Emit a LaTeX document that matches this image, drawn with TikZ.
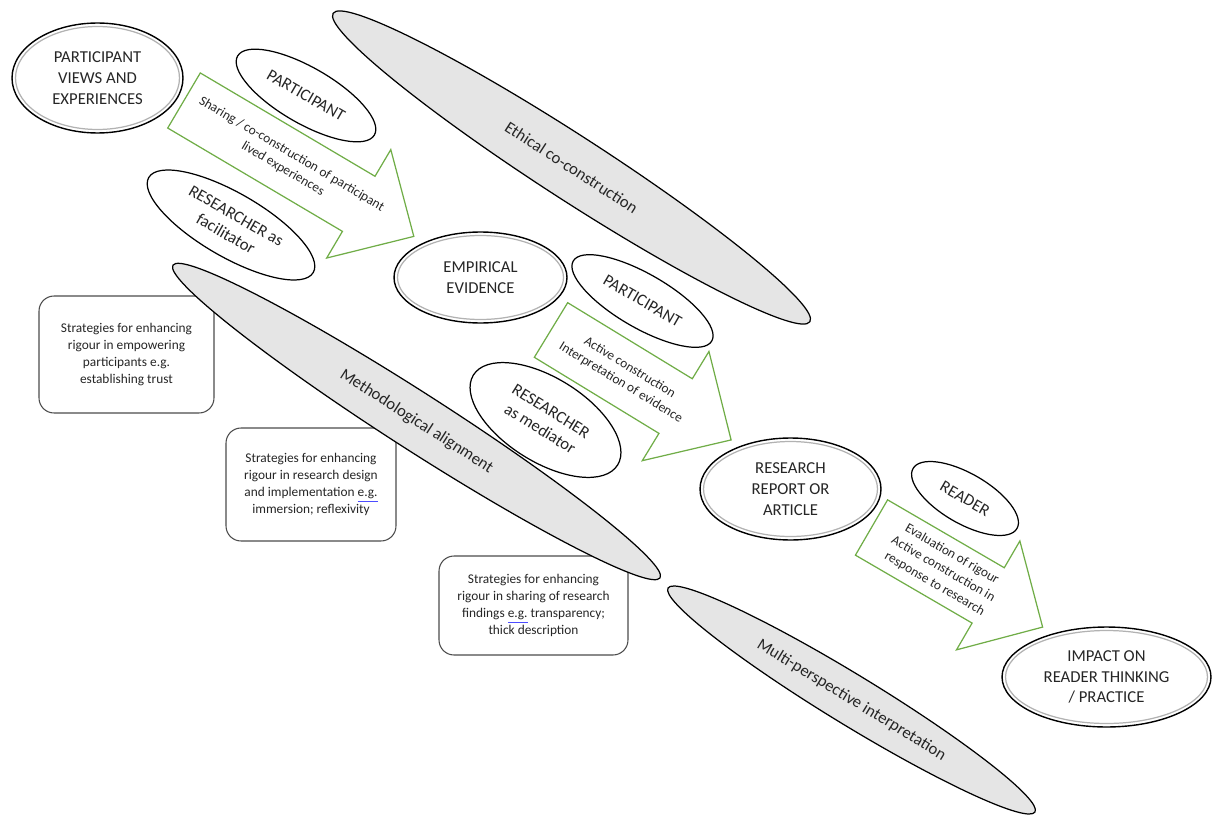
\documentclass[tikz,border=0pt]{standalone}
\usepackage{fontspec}
\setmainfont{Carlito}
\usetikzlibrary{shapes.geometric}

\definecolor{flowgreen}{RGB}{112,173,71}
\newcommand{\capsfont}{\fontsize{9.5}{11.9}\selectfont}
\newcommand{\notefont}{\fontsize{7.6}{9.8}\selectfont}
\newcommand{\spellmark}[1]{{\color{blue!70}\underline{\textcolor{black!85}{#1}}}}

\begin{document}
\begin{tikzpicture}[x=0.02cm,y=-0.02cm,
    outcome/.style={ellipse,draw,line width=0.8pt,fill=white,align=center,inner sep=1pt,font=\capsfont,text=black!85},
    bevel/.style={ellipse,draw=black!30,line width=0.7pt},
    actor/.style={ellipse,draw,line width=0.7pt,fill=white,align=center,inner sep=1pt,font=\capsfont,text=black!85,rotate=-30},
    theme/.style={ellipse,draw,line width=0.7pt,fill=black!10,inner sep=1pt,font=\capsfont,text=black!85},
    strategy/.style={rectangle,draw=black!70,line width=0.6pt,rounded corners=0.3cm,fill=white,align=center,font=\notefont,text=black!85},
    flow/.style={draw=flowgreen,line width=0.7pt,fill=white},
    flowtext/.style={align=center,font=\notefont,text=black!85,transform shape}]
  \useasboundingbox (0,0) rectangle (1226,814);

  % strategy boxes (under the grey bands)
  \node[strategy,minimum width=3.5cm,minimum height=2.34cm] (trust) at (126.5,354.5)
    {Strategies for enhancing\\rigour in empowering\\participants e.g.\\establishing trust};
  \node[strategy,minimum width=3.4cm,minimum height=2.26cm] (design) at (311,484.5)
    {Strategies for enhancing\\rigour in research design\\and implementation \spellmark{e.g.}\\immersion; reflexivity};
  \node[strategy,minimum width=3.78cm,minimum height=1.98cm] (sharing) at (533.5,605.5)
    {Strategies for enhancing\\rigour in sharing of research\\findings \spellmark{e.g.} transparency;\\thick description};

  % grey bands
  \node[theme,rotate=-32.9,minimum width=11.36cm,minimum height=1.28cm] (ethic) at (571.5,167.5) {Ethical co-construction};
  \node[theme,rotate=-32.7,minimum width=11.58cm,minimum height=1.14cm] (method) at (416.5,421.5) {Methodological alignment};
  \node[theme,rotate=-31.4,minimum width=8.6cm,minimum height=1cm] (multi) at (851.5,700) {Multi-perspective interpretation};

  % block arrows
  \begin{scope}[shift={(184,100.5)},rotate=-30.6]
    \draw[flow] (0,-32) -- (203,-32) -- (203,-63) -- (267,0) -- (203,63) -- (203,32) -- (0,32) -- cycle;
    \node[flowtext] (cocon) at (120,0) {Sharing / co-construction of participant\\lived experiences};
  \end{scope}
  \begin{scope}[shift={(551,330)},rotate=-31.4]
    \draw[flow] (0,-32) -- (146,-32) -- (146,-64) -- (211,0) -- (146,64) -- (146,32) -- (0,32) -- cycle;
    \node[flowtext] (interp) at (87,0) {Active construction\\Interpretation of evidence};
  \end{scope}
  \begin{scope}[shift={(871.5,527.5)},rotate=-30.2]
    \draw[flow] (0,-32) -- (135,-32) -- (135,-63) -- (198,0) -- (135,63) -- (135,32) -- (0,32) -- cycle;
    \node[flowtext] (evalr) at (83,0) {Evaluation of rigour\\Active construction in\\response to research};
  \end{scope}

  % actors
  \node[actor,minimum width=3.16cm,minimum height=1.12cm] (part1) at (306,95.5) {PARTICIPANT};
  \node[actor,minimum width=3.8cm,minimum height=1.28cm] (facil) at (231,225) {RESEARCHER as\\facilitator};
  \node[actor,minimum width=3.2cm,minimum height=1.08cm] (part2) at (642.5,301) {PARTICIPANT};
  \node[actor,rotate=-2,minimum width=3.4cm,minimum height=1.68cm] (media) at (545.5,420) {RESEARCHER\\as mediator};
  \node[actor,minimum width=2.4cm,minimum height=1cm] (reader) at (965,498.5) {READER};

  % outcomes
  \node[outcome,minimum width=3.42cm,minimum height=2.2cm] (views) at (97.5,78) {PARTICIPANT\\VIEWS AND\\EXPERIENCES};
  \node[bevel,minimum width=3.28cm,minimum height=2.06cm] (viewsin) at (views) {};
  \node[outcome,minimum width=3.46cm,minimum height=1.82cm] (evid) at (480.5,277.5) {EMPIRICAL\\EVIDENCE};
  \node[bevel,minimum width=3.32cm,minimum height=1.68cm] (evidin) at (evid) {};
  \node[outcome,minimum width=3.62cm,minimum height=2.04cm] (report) at (790.5,489) {RESEARCH\\REPORT OR\\ARTICLE};
  \node[bevel,minimum width=3.48cm,minimum height=1.9cm] (reportin) at (report) {};
  \node[outcome,minimum width=4.18cm,minimum height=2cm] (impact) at (1106.5,677) {IMPACT ON\\READER THINKING\\/ PRACTICE};
  \node[bevel,minimum width=4.04cm,minimum height=1.86cm] (impactin) at (impact) {};
\end{tikzpicture}
\end{document}
